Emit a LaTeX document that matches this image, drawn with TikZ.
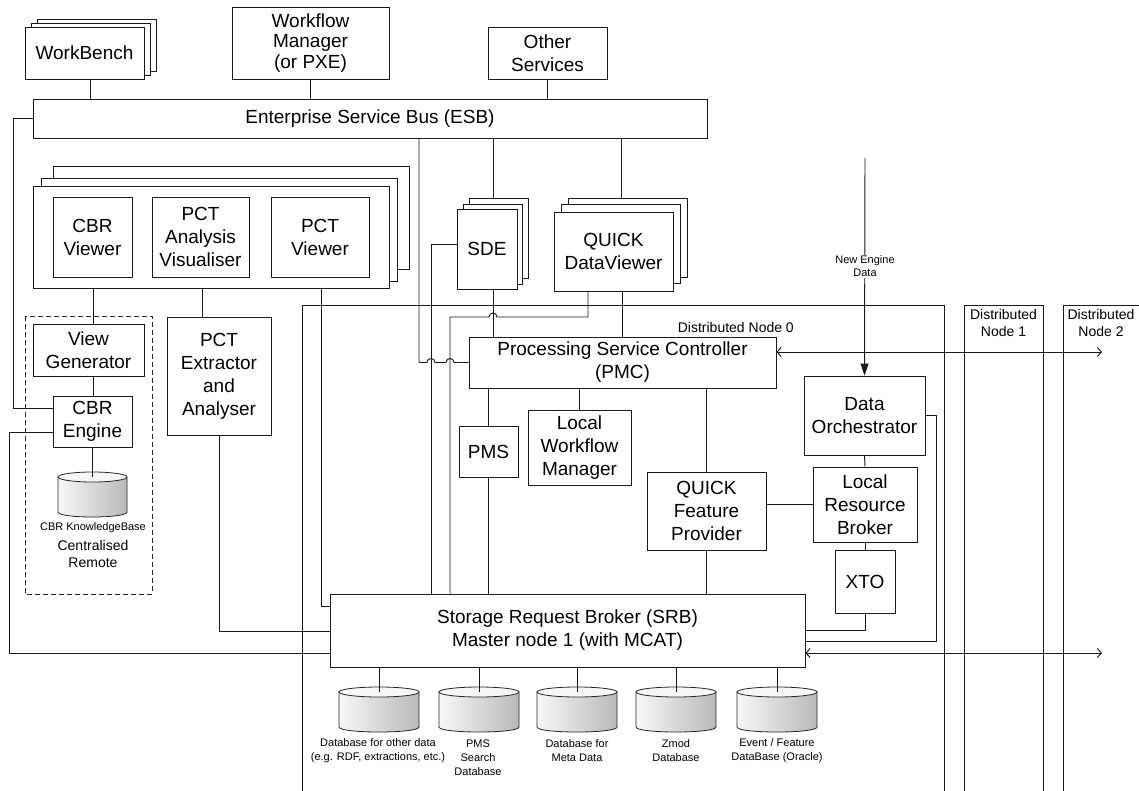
\documentclass[tikz,border=0pt]{standalone}
\usepackage{fontspec}
\setmainfont{Liberation Sans}
\usetikzlibrary{arrows.meta}
\tikzset{
  box/.style={draw=black!90, fill=white, line width=0.9pt, align=center, inner sep=0pt,
    font=\fontsize{19}{23}\selectfont},
  conn/.style={draw=black!90, line width=0.95pt},
  smalltxt/.style={font=\fontsize{11}{14}\selectfont, align=center, inner sep=0pt},
  midtxt/.style={font=\fontsize{14}{17}\selectfont, align=center, inner sep=0pt},
  biarrow/.style={conn, {Straight Barb[length=4pt,width=9pt]}-{Straight Barb[length=4pt,width=9pt]}},
}
\newcommand\bx[6]{\node[box, minimum width=#4pt, minimum height=#5pt] (#1) at (#2,#3) {#6};}
\newcommand\dbcyl[5]{%
  \pgfmathsetmacro\cyL{#2-#4/2}%
  \pgfmathsetmacro\cyR{#2+#4/2}%
  \pgfmathsetmacro\cyT{#3+5}%
  \pgfmathsetmacro\cyB{#3+#5-5}%
  \pgfmathsetmacro\cyC{#3+#5-5+6.67}%
  \pgfmathsetmacro\cyW{#4/2}%
  \path[draw=black!85, line width=0.8pt, left color=gray!6, right color=gray!55]
    (\cyL,\cyT) -- (\cyL,\cyB) .. controls (\cyL,\cyC) and (\cyR,\cyC) .. (\cyR,\cyB) -- (\cyR,\cyT) -- cycle;
  \draw[black!85, line width=0.8pt, fill=gray!7] (#2,\cyT) ellipse[x radius=\cyW, y radius=5];
  \coordinate (#1) at (#2,\cyT);
}
\begin{document}
\begin{tikzpicture}[x=1pt,y=-1pt]
\useasboundingbox (0,0) rectangle (1139,791);
\fill[white] (0,0) rectangle (1139,791);

% distributed node regions
\draw[conn] (302,791) -- (302,305) -- (944,305) -- (944,791);
\draw[conn] (964,791) -- (964,305) -- (1043,305) -- (1043,791);
\draw[conn] (1063,791) -- (1063,305) -- (1139,305);
\node[midtxt, anchor=east] (n0l) at (794,327) {Distributed Node 0};
\node[midtxt] (n1l) at (1003.5,322.5) {Distributed\\Node 1};
\node[midtxt] (n2l) at (1101,322.5) {Distributed\\Node 2};

% top services
\bx{wb3}{96.5}{45}{119}{52}{}
\bx{wb2}{90.5}{49}{119}{52}{}
\bx{wb}{84.5}{53}{119}{52}{WorkBench}
\node[box, minimum width=157pt, minimum height=72pt, font=\fontsize{19}{20.5}\selectfont] (wfm) at (310.5,43) {Workflow\\Manager\\(or PXE)};
\bx{oth}{547.5}{53}{119}{52}{Other\\Services}
\bx{esb}{370}{118.5}{674}{39}{Enterprise Service Bus (ESB)}

% viewers container
\bx{cont3}{231}{217.5}{356}{103}{}
\bx{cont2}{219}{229.5}{356}{103}{}
\bx{cont}{211}{237}{356}{102}{}
\bx{cbrv}{92.5}{237}{79}{80}{CBR\\Viewer}
\bx{pctav}{200.5}{237}{97}{80}{PCT\\Analysis\\Visualiser}
\bx{pctv}{320}{237}{98}{80}{PCT\\Viewer}

% SDE and QUICK DataViewer stacks
\bx{sde3}{498.5}{238}{59}{80}{}
\bx{sde2}{492.5}{244}{59}{80}{}
\bx{sde}{487}{249}{60}{80}{SDE}
\bx{qdv3}{627.5}{237.5}{119}{79}{}
\bx{qdv2}{621}{244}{119}{79}{}
\bx{qdv}{613.5}{251.5}{119}{79}{QUICK\\DataViewer}

% CBR group
\draw[black!85, line width=0.8pt, dash pattern=on 5pt off 3pt] (25,316) rectangle (152,594);
\bx{vg}{88.5}{350}{111}{52}{View\\Generator}
\bx{cbre}{92.5}{421.5}{79}{51}{CBR\\Engine}
\dbcyl{kb}{92.5}{472}{69}{45}
\node[smalltxt] (kbl) at (93,528) {CBR KnowledgeBase};
\node[midtxt] (kbl2) at (93,553.5) {Centralised\\Remote};

\bx{pcte}{219}{376}{104}{118}{PCT\\Extractor\\and\\Analyser}

% node 0 contents
\bx{pmc}{622.5}{362.5}{307}{51}{Processing Service Controller\\(PMC)}
\bx{pms}{488.5}{451.5}{59}{51}{PMS}
\bx{lwm}{579.5}{447.5}{103}{75}{Local\\Workflow\\Manager}
\bx{qfp}{706.5}{511}{119}{78}{QUICK\\Feature\\Provider}
\bx{do}{864.5}{415.5}{121}{79}{Data\\Orchestrator}
\bx{lrb}{865}{504.5}{104}{75}{Local\\Resource\\Broker}
\bx{xto}{865}{581.5}{60}{63}{XTO}
\bx{srb}{567.5}{630.5}{475}{73}{Storage Request Broker (SRB)\\Master node 1 (with MCAT)}

% databases
\dbcyl{db1}{379}{687}{80}{45}
\dbcyl{db2}{479}{687}{80}{45}
\dbcyl{db3}{577}{687}{80}{45}
\dbcyl{db4}{676}{687}{80}{45}
\dbcyl{db5}{777}{687}{80}{45}
\node[smalltxt] (db1l) at (378,751) {Database for other data\\(e.g. RDF, extractions, etc.)};
\node[smalltxt] (db2l) at (478,758) {PMS\\Search\\Database};
\node[smalltxt] (db3l) at (577,751) {Database for\\Meta Data};
\node[smalltxt] (db4l) at (676,751) {Zmod\\Database};
\node[smalltxt] (db5l) at (777,751) {Event / Feature\\DataBase (Oracle)};

% connectors: top
\draw[conn] (wb.south -| 90,0) -- (esb.north -| 90,0);
\draw[conn] (wfm.south) -- (wfm.south |- esb.north);
\draw[conn] (oth.south) -- (oth.south |- esb.north);
\draw[conn] (esb.south -| 493,0) -- (sde3.north -| 493,0);
\draw[conn] (esb.south -| 621,0) -- (qdv3.north -| 621,0);

% left side
\draw[conn] (esb.west) -| (13,408) -- (cbre.west |- 0,408);
\draw[conn] (cbre.west |- 0,432) -| (9,653) -- (srb.west |- 0,653);
\draw[conn] (cont.south -| 93,0) -- (vg.north -| 93,0);
\draw[conn] (vg.south -| 93,0) -- (cbre.north -| 93,0);
\draw[conn] (cbre.south -| kb) -- (kb);
\draw[conn] (cont.south -| 202,0) -- (pcte.north -| 202,0);
\draw[conn] (pcte.south) |- (srb.west |- 0,631);
\draw[conn] (cont.south -| 321,0) |- (srb.west |- 0,606);

% ESB to PMC with hops
\draw[conn] (esb.south -| 419,0) -- (419,362.5) -- (427,362.5)
  .. controls (427,357.2) and (435,357.2) .. (435,362.5) -- (446,362.5)
  .. controls (446,357.2) and (454,357.2) .. (454,362.5) -- (pmc.west);
\draw[conn] (sde.west |- 0,244) -| (srb.north -| 431,0);
\draw[conn] (qdv.south -| 588,0) -- (588,317) -- (497,317)
  .. controls (497,311.7) and (489,311.7) .. (489,317) -- (450,317) -- (srb.north -| 450,0);
\draw[conn] (qdv.south -| 622,0) -- (pmc.north -| 622,0);
\draw[conn] (sde.south -| 493,0) -- (pmc.north -| 493,0);

% PMC children
\draw[conn] (pmc.south -| pms.north) -- (pms.north);
\draw[conn] (pms.south) -- (pms.south |- srb.north);
\draw[conn] (pmc.south -| lwm.north) -- (lwm.north);
\draw[conn] (pmc.south -| qfp.north) -- (qfp.north);
\draw[conn] (qfp.south) -- (qfp.south |- srb.north);
\draw[conn] (lrb.west) -- (lrb.west -| qfp.east);
\draw[conn] (do.south) -- (lrb.north);
\draw[conn] (lrb.south) -- (xto.north);
\draw[conn] (xto.south) |- (srb.east |- 0,630);
\draw[conn] (do.east) -| (936,641) -- (srb.east |- 0,641);

% databases connectors
\foreach \d in {db1,db2,db3,db4,db5} { \draw[conn] (srb.south -| \d) -- (\d); }

% new engine data
\coordinate (nedsrc) at (865,158);
\draw[conn, -{Triangle[length=12pt,width=8pt]}] (nedsrc) -- (do.north);
\node[smalltxt, fill=white, inner sep=1pt, font=\fontsize{11}{13}\selectfont] (ned) at (865,266.5) {New Engine\\Data};

% inter-node arrows
\coordinate (pmcend) at (1102,352);
\coordinate (srbend) at (1102,653);
\draw[biarrow] (pmc.east |- pmcend) -- (pmcend);
\draw[biarrow] (srb.east |- srbend) -- (srbend);
\end{tikzpicture}
\end{document}
